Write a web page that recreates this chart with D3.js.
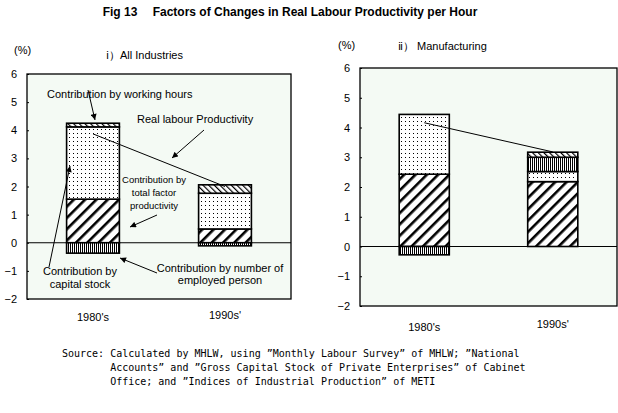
<!DOCTYPE html>
<html><head><meta charset="utf-8">
<script src="https://cdn.jsdelivr.net/npm/d3@7"></script>
<style>
body{margin:0;background:#fff;}
svg{display:block;}
text{fill:#000;}
</style></head>
<body>
<svg id="c" width="618" height="413"></svg>
<script>
// ---- data ----
const categories = ["1980's", "1990s'"];
const yTicks = [-2, -1, 0, 1, 2, 3, 4, 5, 6];
const seriesNames = ["Contribution by capital stock", "Contribution by total factor productivity", "Contribution by number of employed person", "Contribution by working hours"];
// All industries
const allCapital = [1.55, 0.49];
const allTFP = [2.57, 1.27];
const allEmployed = [-0.37, -0.11];
const allHours = [0.13, 0.30];
const allProductivity = [3.87, 2.00];
// Manufacturing
const mfgCapital = [2.43, 2.18];
const mfgTFP = [2.01, 0.34];
const mfgEmployed = [-0.28, 0.48];
const mfgHours = [0.0, 0.17];
const mfgProductivity = [4.16, 3.18];

const SANS = "Liberation Sans, Arial, sans-serif";
const MONO = "DejaVu Sans Mono, monospace";

const svg = d3.select("#c");
const defs = svg.append("defs");

// patterns
const pCap = defs.append("pattern").attr("id","pCap").attr("patternUnits","userSpaceOnUse")
  .attr("width",8).attr("height",8).attr("patternTransform","rotate(45)");
pCap.append("rect").attr("width",8).attr("height",8).attr("fill","#fff");
pCap.append("rect").attr("x",0).attr("y",0).attr("width",2.6).attr("height",8).attr("fill","#000");

const pTfp = defs.append("pattern").attr("id","pTfp").attr("patternUnits","userSpaceOnUse")
  .attr("width",4).attr("height",4);
pTfp.append("rect").attr("width",4).attr("height",4).attr("fill","#fff");
pTfp.append("rect").attr("x",1).attr("y",1).attr("width",1).attr("height",1).attr("fill","#000");

const pEmp = defs.append("pattern").attr("id","pEmp").attr("patternUnits","userSpaceOnUse")
  .attr("width",2).attr("height",4);
pEmp.append("rect").attr("width",2).attr("height",4).attr("fill","#fff");
pEmp.append("rect").attr("x",0).attr("width",1).attr("height",4).attr("fill","#000");

const pHrs = defs.append("pattern").attr("id","pHrs").attr("patternUnits","userSpaceOnUse")
  .attr("width",4).attr("height",4).attr("patternTransform","rotate(-45)");
pHrs.append("rect").attr("width",4).attr("height",4).attr("fill","#fff");
pHrs.append("rect").attr("x",0).attr("width",1.2).attr("height",4).attr("fill","#000");

const fills = ["url(#pCap)","url(#pTfp)","url(#pEmp)","url(#pHrs)"];

const marker = defs.append("marker").attr("id","arr").attr("viewBox","0 0 10 10")
  .attr("refX",10).attr("refY",5).attr("markerWidth",7).attr("markerHeight",6)
  .attr("markerUnits","userSpaceOnUse").attr("orient","auto");
marker.append("path").attr("d","M0,0 L10,5 L0,10 Z").attr("fill","#000");

// title
svg.append("text").attr("x",290).attr("y",16).attr("text-anchor","middle")
  .style("font-family",SANS).style("font-size","12px").style("font-weight","bold")
  .text("Fig 13\u2003 Factors of Changes in Real Labour Productivity per Hour");

function panel(cfg){
  const x = d3.scaleBand().domain(categories).range([cfg.x0, cfg.x1]).padding(0);
  const y = d3.scaleLinear().domain([-2, 6]).range([cfg.y1, cfg.y0]);
  const g = svg.append("g");
  g.append("rect").attr("x",cfg.x0).attr("y",cfg.y0).attr("width",cfg.x1-cfg.x0).attr("height",cfg.y1-cfg.y0)
    .attr("fill","#f4faf4").attr("stroke","#000").attr("stroke-width",1.3);
  // axis
  const ax = d3.axisLeft(y).tickValues(yTicks).tickSize(-2).tickPadding(10).tickFormat(d3.format("d"));
  const ag = g.append("g").attr("transform",`translate(${cfg.x0},0)`).call(ax);
  ag.select(".domain").remove();
  ag.selectAll("line").attr("stroke","#000");
  ag.selectAll("text").style("font-size","11px").style("font-family",SANS).text(d=>d<0?"\u2212"+(-d):d);
  // zero line
  g.append("line").attr("x1",cfg.x0).attr("x2",cfg.x1).attr("y1",y(0)).attr("y2",y(0)).attr("stroke","#000").attr("stroke-width",1);
  // stacked bars
  const rows = categories.map((c,i)=>({cat:c, s0:cfg.data[0][i], s1:cfg.data[1][i], s2:cfg.data[2][i], s3:cfg.data[3][i]}));
  const stack = d3.stack().keys(["s0","s1","s2","s3"]).offset(d3.stackOffsetDiverging)(rows);
  const bw = x.bandwidth()*cfg.bar;
  stack.forEach((layer,k)=>{
    g.selectAll(null).data(layer.filter(d=>Math.abs(d[1]-d[0])>1e-9)).join("rect")
      .attr("x",d=>x(d.data.cat)+(x.bandwidth()-bw)/2)
      .attr("width",bw)
      .attr("y",d=>y(Math.max(d[0],d[1])))
      .attr("height",d=>Math.abs(y(d[0])-y(d[1])))
      .attr("fill",fills[k]).attr("stroke","#000").attr("stroke-width",1.6);
  });
  // productivity line
  const line = d3.line().x((d,i)=>x(categories[i])+x.bandwidth()/2).y(d=>y(d));
  g.append("path").attr("d",line(cfg.prod)).attr("fill","none").attr("stroke","#000").attr("stroke-width",1);
  // labels
  categories.forEach((c,i)=>{
    g.append("text").attr("x",x(c)+x.bandwidth()/2).attr("y",cfg.catY[i]).attr("text-anchor","middle")
      .style("font-family",SANS).style("font-size","11px").text(c);
  });
  g.append("text").attr("x",cfg.pctX).attr("y",cfg.pctY).style("font-family",SANS).style("font-size","11px").text("(%)");
  g.append("text").attr("x",cfg.titleX).attr("y",cfg.titleY).style("font-family",SANS).style("font-size","11px").text(cfg.title);
  return {x,y,g};
}

const L = panel({x0:27,x1:291,y0:74,y1:299,bar:0.4,
  data:[allCapital,allTFP,allEmployed,allHours],prod:allProductivity,
  catY:[321,319],pctX:14,pctY:54,titleX:106,titleY:59,title:"\u2170\uFF09All Industries"});
const R = panel({x0:360,x1:617,y0:68,y1:306,bar:0.39,
  data:[mfgCapital,mfgTFP,mfgEmployed,mfgHours],prod:mfgProductivity,
  catY:[331,328],pctX:338,pctY:49,titleX:398,titleY:50,title:"\u2171\uFF09 Manufacturing"});

// annotations in left panel
const ann = svg.append("g");
function t(x,y,s,fs,anchor){ann.append("text").attr("x",x).attr("y",y).attr("text-anchor",anchor||"start")
  .style("font-family",SANS).style("font-size",(fs||11)+"px").text(s);}
t(47,98,"Contribution by working hours");
t(137,123,"Real labour Productivity");
t(154,183,"Contribution by",9.5,"middle");
t(154,196,"total factor",9.5,"middle");
t(154,209,"productivity",9.5,"middle");
t(80,275,"Contribution by",11,"middle");
t(80,288,"capital stock",11,"middle");
t(220,272,"Contribution by number of",11,"middle");
t(220,284,"employed person",11,"middle");
function arrow(x1,y1,x2,y2){ann.append("line").attr("x1",x1).attr("y1",y1).attr("x2",x2).attr("y2",y2)
  .attr("stroke","#000").attr("stroke-width",1).attr("marker-end","url(#arr)");}
arrow(88,90,95,120);
arrow(204,130,172,158);
arrow(157,215,130,227);
arrow(49,267,70,166);
arrow(157,273,120,258);

// source
const srcLines = ["Source: Calculated by MHLW, using \u201DMonthly Labour Survey\u201D of MHLW; \u201DNational",
  "        Accounts\u201D and \u201DGross Capital Stock of Private Enterprises\u201D of Cabinet",
  "        Office; and \u201DIndices of Industrial Production\u201D of METI"];
srcLines.forEach((s,i)=>{
  svg.append("text").attr("x",62).attr("y",357+i*14)
    .style("font-family",MONO).style("font-size","10px").style("white-space","pre").text(s);
});
</script>
</body></html>
